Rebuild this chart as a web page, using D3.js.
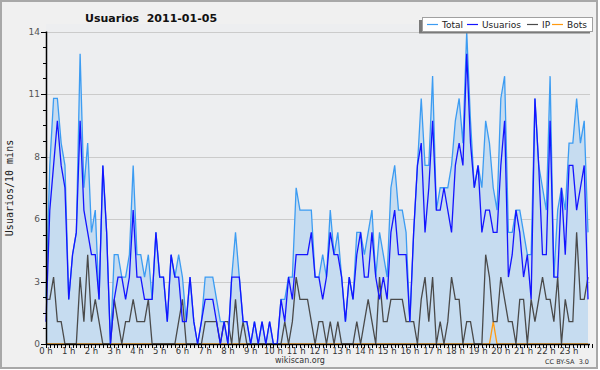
<!DOCTYPE html>
<html><head><meta charset="utf-8">
<script src="https://cdn.jsdelivr.net/npm/d3@7"></script>
<style>html,body{margin:0;padding:0;background:#fff;}svg{display:block;}</style>
</head><body>
<svg id="chart" width="600" height="370"></svg>
<script>
const titleText = "Usuarios  2011-01-05";
const yLabel = "Usuarios/10 mins";
const hourLabels = d3.range(24).map(h => h + " h");
const yTickValues = [0, 2.8, 5.6, 8.4, 11.2, 14];
const yTickLabels = ["0", "3", "6", "8", "11", "14"];
const seriesNames = ["Total", "Usuarios", "IP", "Bots"];
const seriesColors = ["#3c9cf2", "#1414ff", "#4a4a4a", "#ff9a10"];

const total = [2,8,11,11,9,8,2,4,5,13,7,9,5,6,2,8,5,0,4,4,3,3,4,8,4,4,3,4,2,5,3,3,1,4,3,4,3,1,3,1,0,1,3,3,3,2,1,1,0,3,5,3,1,1,0,1,0,1,0,1,0,0,2,2,3,3,7,6,6,6,6,3,3,4,3,6,4,5,3,1,3,2,5,5,4,5,6,3,5,4,3,7,8,6,6,5,1,5,8,11,8,8,12,6,7,7,7,8,10,11,9,14,10,7,8,7,10,9,7,6,11,12,5,5,6,6,5,4,4,11,8,7,6,12,3,6,7,6,9,9,11,9,10,5];
const usuarios = [1,6,8,10,8,7,2,4,5,10,6,5,4,4,2,8,5,0,2,3,3,2,3,6,3,3,2,2,2,5,3,3,1,4,3,3,1,1,3,1,0,1,2,2,2,1,0,1,0,3,3,3,1,1,0,1,0,1,0,1,0,0,2,1,3,2,4,4,4,4,5,3,3,2,3,5,4,4,3,1,3,2,4,5,3,3,5,3,2,3,2,5,6,4,4,4,1,5,8,9,5,7,10,6,6,7,6,5,8,9,8,13,9,7,8,5,6,6,5,5,8,10,3,4,6,5,3,4,2,11,8,4,4,10,3,3,7,4,8,8,6,7,8,2];
const ip = [2,2,3,1,1,0,0,0,0,3,1,4,1,2,1,0,0,0,2,1,0,1,1,2,1,1,1,2,0,0,0,0,0,0,0,1,2,0,0,0,0,0,1,1,1,1,0,1,1,0,2,0,1,0,0,0,0,0,0,0,0,0,0,1,0,1,3,2,2,2,1,0,1,1,0,1,0,1,0,0,0,0,1,0,1,2,1,0,3,1,1,2,2,2,2,1,1,1,0,2,3,1,3,0,1,0,1,3,2,2,0,1,1,0,0,0,4,3,1,1,3,2,1,1,0,2,2,0,2,1,2,3,2,2,1,3,0,2,1,1,5,2,2,3];
const bots = total.map(() => 0);
bots[118] = 1;

const svg = d3.select("#chart");
const pLeft = 46, pRight = 590, pTop = 31.5, pBottom = 344;

// outer background and frame
svg.append("rect").attr("x", 1).attr("y", 1).attr("width", 596).attr("height", 367)
  .attr("fill", "#f0f0f0").attr("stroke", "#a8a8a8").attr("stroke-width", 2);
// plot background
svg.append("rect").attr("x", pLeft).attr("y", 24).attr("width", pRight - pLeft).attr("height", pBottom - 24)
  .attr("fill", "#edeef0");

const x = d3.scaleLinear().domain([0, 143]).range([46, 588]);
const y = d3.scaleLinear().domain([0, 14]).range([pBottom, pTop]);

// gridlines
svg.append("g").selectAll("line").data(yTickValues.slice(1)).join("line")
  .attr("x1", pLeft).attr("x2", pRight)
  .attr("y1", d => Math.round(y(d)) + 0.5).attr("y2", d => Math.round(y(d)) + 0.5)
  .attr("stroke", "#cbcbcb").attr("stroke-width", 1);

const idx = d3.range(total.length);
// area
svg.append("path").datum(idx)
  .attr("d", d3.area().x(i => x(i)).y0(y(0)).y1(i => y(total[i])))
  .attr("fill", "#c6dcf0");

const line = arr => d3.line().x(i => x(i)).y(i => y(arr[i]));
[[bots, 3], [ip, 2], [total, 0], [usuarios, 1]].forEach(([arr, k]) => {
  svg.append("path").attr("d", line(arr)(idx))
    .attr("fill", "none").attr("stroke", seriesColors[k]).attr("stroke-width", 1.3)
    .attr("stroke-linejoin", "miter");
});

// y axis
const yMinor = d3.range(0, 14.01, 0.7);
const yAx = svg.append("g");
yAx.selectAll("line.minor").data(yMinor).join("line")
  .attr("x1", pLeft - 3).attr("x2", pLeft)
  .attr("y1", d => Math.round(y(d)) + 0.5).attr("y2", d => Math.round(y(d)) + 0.5)
  .attr("stroke", "#000");
yAx.append("g").selectAll("line").data(yTickValues).join("line")
  .attr("x1", pLeft - 5).attr("x2", pLeft)
  .attr("y1", d => Math.round(y(d)) + 0.5).attr("y2", d => Math.round(y(d)) + 0.5)
  .attr("stroke", "#000");
yAx.append("line").attr("x1", pLeft + 0.5).attr("x2", pLeft + 0.5).attr("y1", y(14)).attr("y2", pBottom + 1)
  .attr("stroke", "#000").attr("stroke-width", 1.5);
yAx.append("g").selectAll("text").data(yTickValues).join("text")
  .attr("x", pLeft - 6).attr("y", d => y(d) + 3)
  .attr("text-anchor", "end").attr("font-family", "DejaVu Sans").attr("font-size", 9)
  .attr("fill", "#555").text((d, i) => yTickLabels[i]);

// x axis
const xAx = svg.append("g");
xAx.append("line").attr("x1", pLeft).attr("x2", pRight).attr("y1", pBottom + 0.5).attr("y2", pBottom + 0.5)
  .attr("stroke", "#000").attr("stroke-width", 1.5);
xAx.append("g").selectAll("line").data(d3.range(0, 145)).join("line")
  .attr("x1", d => Math.round(x(d)) + 0.5).attr("x2", d => Math.round(x(d)) + 0.5)
  .attr("y1", pBottom).attr("y2", pBottom + 4)
  .attr("stroke", "#000");
xAx.append("g").selectAll("text").data(hourLabels).join("text")
  .attr("x", (d, i) => x(i * 6)).attr("y", pBottom + 10)
  .attr("text-anchor", "middle").attr("font-family", "DejaVu Sans").attr("font-size", 8.5)
  .attr("fill", "#333").text(d => d);

// title
svg.append("text").attr("x", 85).attr("y", 22).attr("font-family", "DejaVu Sans")
  .attr("font-weight", "bold").attr("font-size", 11).attr("fill", "#111")
  .style("white-space", "pre").text(titleText);

// y label
svg.append("text").attr("transform", "translate(13,188) rotate(-90)")
  .attr("text-anchor", "middle").attr("font-family", "DejaVu Sans Mono").attr("font-size", 10)
  .attr("fill", "#222").text(yLabel);

// footer
svg.append("text").attr("x", 300).attr("y", 363).attr("text-anchor", "middle")
  .attr("font-family", "DejaVu Sans").attr("font-size", 8).attr("fill", "#333").text("wikiscan.org");
svg.append("text").attr("x", 589).attr("y", 364).attr("text-anchor", "end")
  .attr("font-family", "DejaVu Sans").attr("font-size", 6.5).attr("fill", "#333")
  .style("white-space", "pre").text("CC BY-SA  3.0");

// legend
const lg = svg.append("g");
lg.append("rect").attr("x", 419).attr("y", 20).attr("width", 171).attr("height", 13.5).attr("fill", "#7a7a7a");
lg.append("rect").attr("x", 422.5).attr("y", 17.5).attr("width", 170).attr("height", 14)
  .attr("fill", "#fff").attr("stroke", "#a0a0a0");
const lx = [427, 467, 527, 552];
seriesNames.forEach((n, k) => {
  lg.append("line").attr("x1", lx[k]).attr("x2", lx[k] + 11).attr("y1", 24.5).attr("y2", 24.5)
    .attr("stroke", seriesColors[k]).attr("stroke-width", 1.2);
  lg.append("text").attr("x", lx[k] + 15).attr("y", 28).attr("font-family", "DejaVu Sans")
    .attr("font-size", 9).attr("fill", "#222").text(n);
});
</script>
</body></html>
